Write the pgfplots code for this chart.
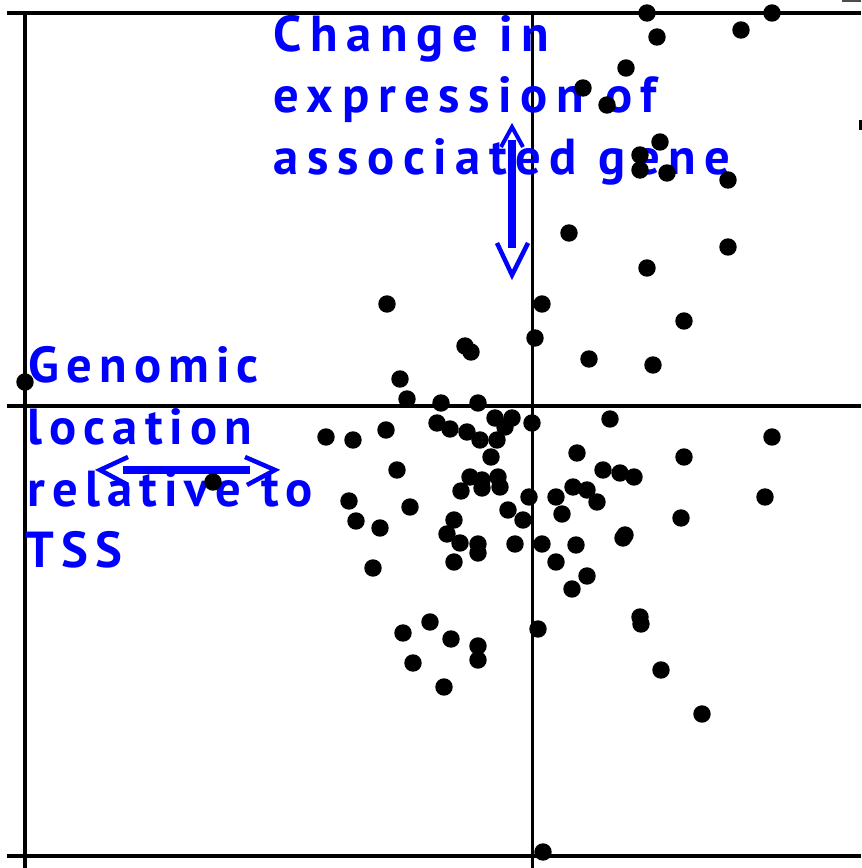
\documentclass[border=0pt]{standalone}
\usepackage{pgfplots}
\pgfplotsset{compat=1.18}
\usepackage{fontspec}
\newfontfamily\lbl[LetterSpace=17]{PT Sans}
\newfontfamily\lblb[LetterSpace=14]{PT Sans}
\begin{document}
\begin{tikzpicture}
\begin{axis}[
  width=86.1mm, height=86.8mm, scale only axis,
  xmin=-532, xmax=329, ymin=-462, ymax=406,
  hide axis, clip=false,
]
% frame / quadrant lines
\draw[line width=0.4mm] (axis cs:-525,393) -- (axis cs:329,393);
\draw[line width=0.4mm] (axis cs:-507,393) -- (axis cs:-507,-462);
\draw[line width=0.33mm] (axis cs:-525,0) -- (axis cs:329,0);
\draw[line width=0.33mm] (axis cs:-525,-450) -- (axis cs:329,-450);
\draw[line width=0.3mm] (axis cs:0,393) -- (axis cs:0,-462);
\draw[line width=0.3mm] (axis cs:328,286) -- (axis cs:328,276);
\draw[line width=0.3mm, black!70] (axis cs:310,405) -- (axis cs:329,405);
\coordinate (SW) at (axis cs:-532,-462);
\coordinate (NE) at (axis cs:329,406);

\addplot[only marks, mark=*, mark size=0.8mm, black] coordinates {
(115,393) (240,393) (209,376) (125,369) (94,338) (51,318) (75,301)
(128,264) (108,251) (108,236) (135,233) (196,226) (37,173) (196,159)
(115,138) (152,85) (121,41) (57,47) (-145,102) (10,102) (3,68)
(-67,60) (-61,54) (-132,27) (-125,7) (-91,3) (-54,3) (-507,24)
(-95,-17) (-82,-23) (-65,-26) (-52,-34) (-35,-34) (-37,-12) (-20,-12)
(-27,-21) (0,-17) (78,-13) (-206,-31) (-179,-34) (-146,-24) (-41,-51)
(45,-47) (71,-64) (88,-67) (102,-71) (-135,-64) (-62,-71) (-50,-74)
(-34,-71) (-32,-81) (-50,-82) (-71,-85) (-3,-91) (24,-91) (41,-81)
(55,-84) (65,-96) (-183,-95) (-122,-101) (-24,-104) (-9,-114) (30,-108)
(-176,-115) (-152,-122) (-78,-114) (-85,-128) (-72,-137) (-54,-138)
(-54,-147) (-78,-156) (-17,-138) (10,-138) (44,-139) (24,-156)
(55,-170) (40,-183) (-159,-162) (6,-223) (-102,-216) (-129,-227)
(-81,-233) (-54,-240) (-54,-254) (-119,-257) (-88,-281) (240,-31)
(152,-51) (233,-91) (149,-112) (93,-129) (91,-132) (108,-211)
(109,-218) (129,-264) (170,-308) (11,-446) (-319,-76)
};

% arrows
\draw[blue, line width=0.8mm] (axis cs:-20,266) -- (axis cs:-20,158);
\draw[blue, line width=0.45mm] (axis cs:-35,163) -- (axis cs:-20,131) -- (axis cs:-4,163);
\draw[blue, line width=0.4mm] (axis cs:-31,259) -- (axis cs:-20,279) -- (axis cs:-9,259);
\draw[blue, line width=0.8mm] (axis cs:-409,-64) -- (axis cs:-282,-64);
\draw[blue, line width=0.45mm] (axis cs:-404,-51) -- (axis cs:-432,-64) -- (axis cs:-404,-79);
\draw[blue, line width=0.45mm] (axis cs:-287,-51) -- (axis cs:-257,-64) -- (axis cs:-285,-79);

% labels
\tikzset{lab/.style={anchor=base west, inner sep=0pt, text=blue, font=\lbl\bfseries\fontsize{14.4}{17}\selectfont},
         labb/.style={lab, font=\lblb\bfseries\fontsize{14.4}{17}\selectfont}}
\node[lab] at (axis cs:-259,354) {Change in};
\node[lab] at (axis cs:-259,293) {expression of};
\node[lab] at (axis cs:-259,231) {associated gene};
\node[labb] at (axis cs:-504,23) {Genomic};
\node[labb] at (axis cs:-505,-39) {location};
\node[labb] at (axis cs:-505,-101) {relative to};
\node[labb] at (axis cs:-507,-162) {TSS};
\end{axis}
\pgfresetboundingbox
\path (SW) rectangle (NE);
\end{tikzpicture}
\end{document}
